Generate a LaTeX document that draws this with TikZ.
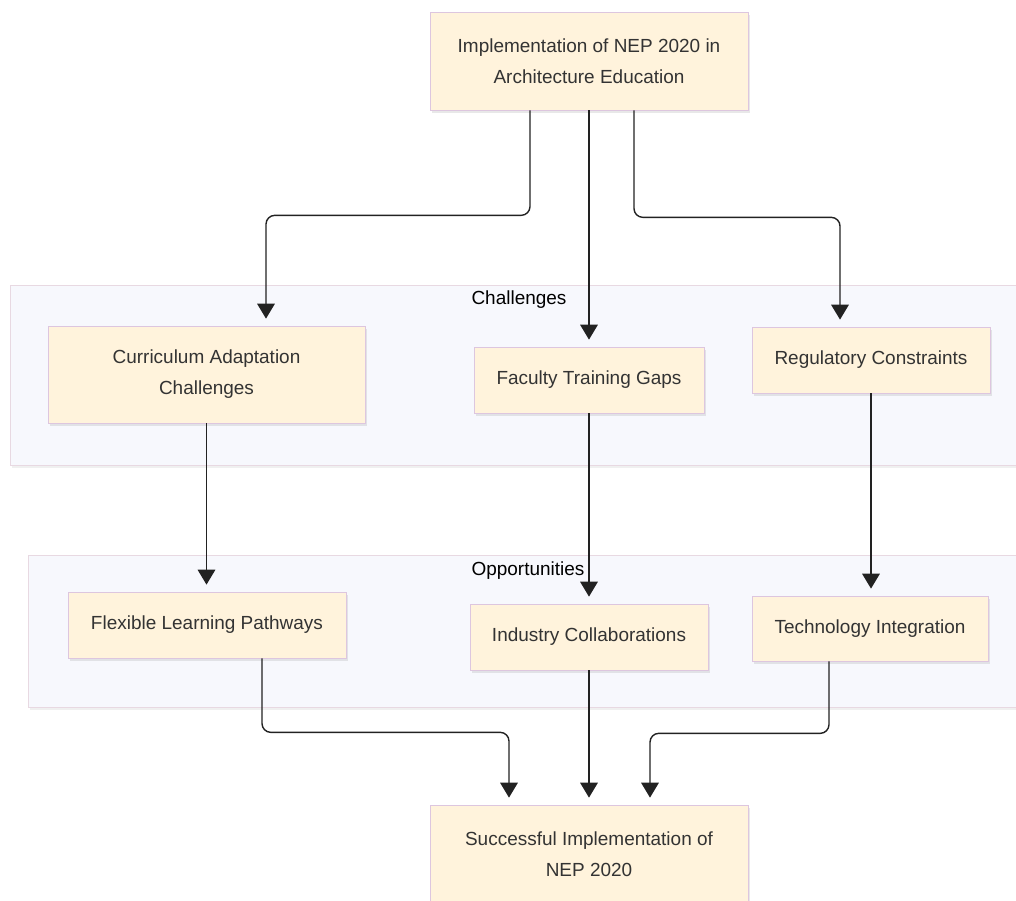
\documentclass[tikz,border=0pt]{standalone}
\usepackage{fontspec}
\setmainfont{Liberation Sans}
\usetikzlibrary{arrows.meta,calc,shadows}
\definecolor{boxfill}{HTML}{FFF3DC}
\definecolor{boxline}{HTML}{DDC6DF}
\definecolor{groupfill}{HTML}{F7F8FD}
\definecolor{groupline}{HTML}{E8D9E2}
\definecolor{textgray}{HTML}{333333}
\definecolor{linegray}{HTML}{222222}
\begin{document}
\begin{tikzpicture}[
  x=0.02cm, y=-0.02cm,
  box/.style={
    draw=boxline,
    fill=boxfill,
    align=center,
    text=textgray,
    inner sep=0pt,
    font=\fontsize{10.8}{17.6}\selectfont,
    drop shadow={shadow xshift=1pt, shadow yshift=-1.5pt, opacity=0.18}
  },
  group/.style={
    draw=groupline,
    fill=groupfill,
    inner sep=0pt,
    drop shadow={shadow xshift=1pt, shadow yshift=-1.5pt, opacity=0.12}
  },
  grouplabel/.style={font=\fontsize{10.8}{12}\selectfont, text=black},
  link/.style={-{Triangle[width=10pt,length=8.5pt]}, draw=linegray, line width=0.8pt,
    rounded corners=5pt, shorten >=4pt}
]
\useasboundingbox (0,0) rectangle (1016,901);
\clip (0,0) rectangle (1016,901);

\node[group, minimum width=20.4cm, minimum height=3.6cm] (chal) at (520,375) {};
\node[grouplabel] (chaltitle) at (519,300) {Challenges};
\node[group, minimum width=20.04cm, minimum height=3.04cm] (opp) at (529,631) {};
\node[grouplabel] (opptitle) at (528,571) {Opportunities};

\node[box, minimum width=6.36cm, minimum height=1.96cm] (nep) at (589,61) {Implementation of NEP 2020 in\\Architecture Education};
\node[box, minimum width=6.34cm, minimum height=1.94cm] (curr) at (206.5,374.5) {Curriculum Adaptation\\Challenges};
\node[box, minimum width=4.6cm, minimum height=1.32cm] (fac) at (589,380) {Faculty Training Gaps};
\node[box, minimum width=4.76cm, minimum height=1.32cm] (reg) at (871,360) {Regulatory Constraints};
\node[box, minimum width=5.56cm, minimum height=1.32cm] (flex) at (207,625) {Flexible Learning Pathways};
\node[box, minimum width=4.76cm, minimum height=1.32cm] (ind) at (589,637) {Industry Collaborations};
\node[box, minimum width=4.72cm, minimum height=1.3cm] (tech) at (870,628.5) {Technology Integration};
\node[box, minimum width=6.36cm, minimum height=1.96cm] (succ) at (589,854) {Successful Implementation of\\NEP 2020};

\draw[link] ($(nep.south)+(-59,0)$) -- ++(0,105) -| ($(curr.north)+(59.5,0)$);
\draw[link] (nep.south) -- (fac.north);
\draw[link] ($(nep.south)+(45,0)$) -- ++(0,107) -| ($(reg.north)+(-31,0)$);
\draw[link] (curr.south) -- (curr.south |- flex.north);
\draw[link] (fac.south) -- (ind.north);
\draw[link] (reg.south) -- (reg.south |- tech.north);
\draw[link] ($(flex.south)+(55,0)$) -- ++(0,74) -| ($(succ.north)+(-80,0)$);
\draw[link] (ind.south) -- (succ.north);
\draw[link] ($(tech.south)+(-41,0)$) -- ++(0,72) -| ($(succ.north)+(61,0)$);
\end{tikzpicture}
\end{document}
